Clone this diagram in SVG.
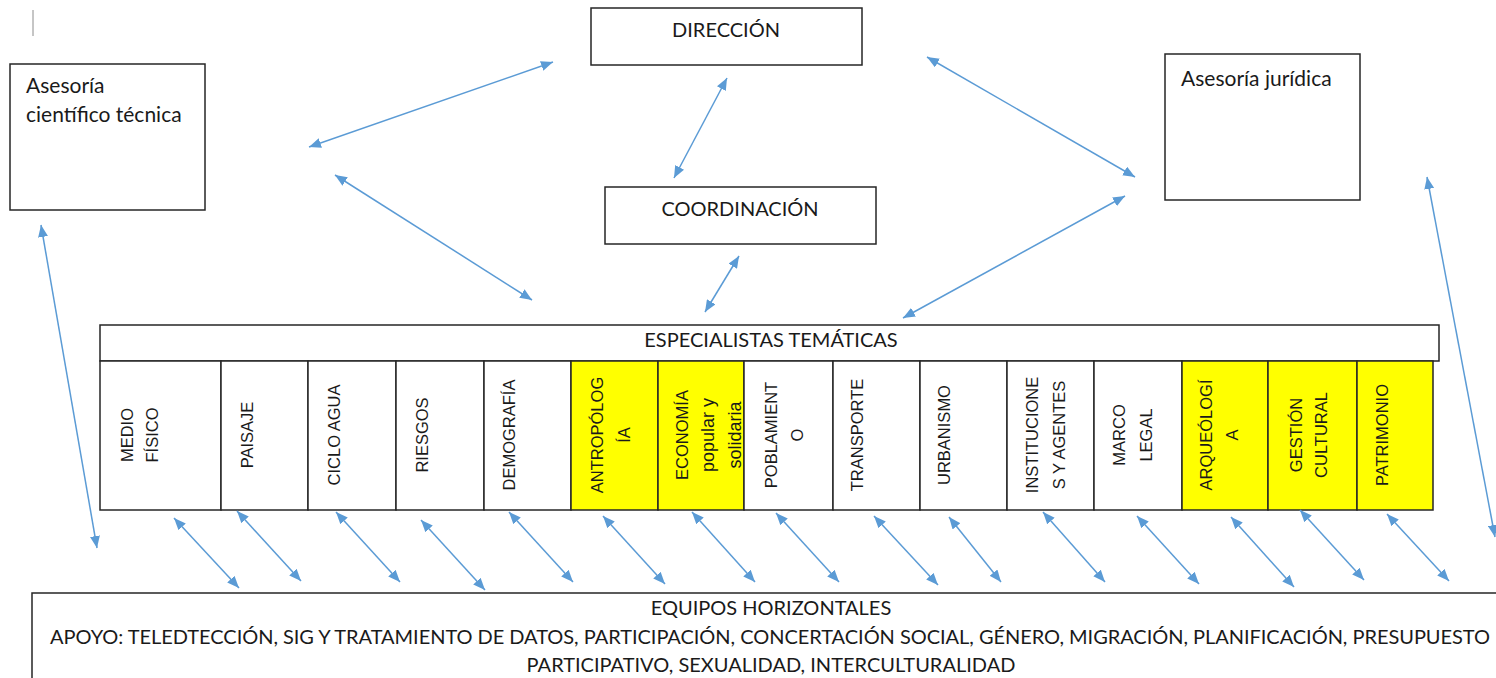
<svg xmlns="http://www.w3.org/2000/svg" width="1496" height="678" viewBox="0 0 1496 678">
<defs>
<marker id="ah" viewBox="0 0 12 10" refX="12" refY="5" markerWidth="12" markerHeight="10" markerUnits="userSpaceOnUse" orient="auto-start-reverse">
<path d="M0,0 L12,5 L0,10 z" fill="#5B9BD5"/>
</marker>
<style>
.box{fill:#fff;stroke:#262626;stroke-width:1.5}
.col{fill:#fff;stroke:#262626;stroke-width:1.5}
.yel{fill:#ffff00;stroke:#262626;stroke-width:1.5}
.t{font-family:Lato,"Liberation Sans",sans-serif;font-size:21px;fill:#1a1a1a}
.c{font-family:Lato,"Liberation Sans",sans-serif;font-size:20px;fill:#1a1a1a;text-anchor:middle}
.v{font-family:"Liberation Sans",Arial,sans-serif;font-size:16.5px;fill:#1a1a1a;text-anchor:middle}
.s{font-size:18px}
.a{stroke:#5B9BD5;stroke-width:1.5;fill:none;marker-start:url(#ah);marker-end:url(#ah)}
</style>
</defs>
<rect width="1496" height="678" fill="#fff"/>
<line x1="33" y1="10" x2="33" y2="36" stroke="#8c8c8c" stroke-width="1"/>

<g id="asesoria-cientifica">
<rect class="box" x="10" y="64" width="195" height="146"/>
<text class="t" x="26" y="93">Asesoría</text>
<text class="t" x="26" y="122">científico técnica</text>
</g>
<g id="direccion">
<rect class="box" x="591" y="8" width="271" height="57"/>
<text class="c" x="726" y="37">DIRECCIÓN</text>
</g>
<g id="coordinacion">
<rect class="box" x="605" y="187" width="271" height="57"/>
<text class="c" x="740" y="216">COORDINACIÓN</text>
</g>
<g id="asesoria-juridica">
<rect class="box" x="1165" y="54" width="195" height="146"/>
<text class="t" x="1181" y="86">Asesoría jurídica</text>
</g>
<g id="especialistas">
<rect class="box" x="100" y="325" width="1339" height="36"/>
<text class="c" x="771" y="347">ESPECIALISTAS TEMÁTICAS</text>
</g>

<g id="col-medio-fisico"><rect class="col" x="100" y="361" width="121" height="149"/>
<text class="v" transform="translate(133,435) rotate(-90)"><tspan x="0" y="0">MEDIO</tspan><tspan x="0" y="25">FÍSICO</tspan></text></g>
<g id="col-paisaje"><rect class="col" x="221" y="361" width="87" height="149"/>
<text class="v" transform="translate(253,435) rotate(-90)">PAISAJE</text></g>
<g id="col-ciclo-agua"><rect class="col" x="308" y="361" width="88" height="149"/>
<text class="v" transform="translate(340,435) rotate(-90)">CICLO AGUA</text></g>
<g id="col-riesgos"><rect class="col" x="396" y="361" width="88" height="149"/>
<text class="v" transform="translate(428,435) rotate(-90)">RIESGOS</text></g>
<g id="col-demografia"><rect class="col" x="484" y="361" width="87" height="149"/>
<text class="v" transform="translate(515,435) rotate(-90)">DEMOGRAFÍA</text></g>
<g id="col-antropologia"><rect class="yel" x="571" y="361" width="87" height="149"/>
<text class="v" transform="translate(603,435) rotate(-90)"><tspan x="0" y="0">ANTROPÓLOG</tspan><tspan x="0" y="27">ÍA</tspan></text></g>
<g id="col-economia"><rect class="yel" x="658" y="361" width="86" height="149"/>
<text class="v" transform="translate(688,435) rotate(-90)"><tspan x="0" y="0">ECONOMÍA</tspan><tspan class="s" x="0" y="26">popular y</tspan><tspan class="s" x="0" y="53">solidaria</tspan></text></g>
<g id="col-poblamiento"><rect class="col" x="744" y="361" width="89" height="149"/>
<text class="v" transform="translate(777,435) rotate(-90)"><tspan x="0" y="0">POBLAMIENT</tspan><tspan x="0" y="26">O</tspan></text></g>
<g id="col-transporte"><rect class="col" x="833" y="361" width="87" height="149"/>
<text class="v" transform="translate(863,435) rotate(-90)">TRANSPORTE</text></g>
<g id="col-urbanismo"><rect class="col" x="920" y="361" width="87" height="149"/>
<text class="v" transform="translate(950,435) rotate(-90)">URBANISMO</text></g>
<g id="col-instituciones"><rect class="col" x="1007" y="361" width="87" height="149"/>
<text class="v" transform="translate(1038,435) rotate(-90)"><tspan x="0" y="0">INSTITUCIONE</tspan><tspan x="0" y="27">S Y AGENTES</tspan></text></g>
<g id="col-marco-legal"><rect class="col" x="1094" y="361" width="88" height="149"/>
<text class="v" transform="translate(1125,435) rotate(-90)"><tspan x="0" y="0">MARCO</tspan><tspan x="0" y="27">LEGAL</tspan></text></g>
<g id="col-arqueologia"><rect class="yel" x="1182" y="361" width="86" height="149"/>
<text class="v" transform="translate(1212,435) rotate(-90)"><tspan x="0" y="0">ARQUEÓLOGÍ</tspan><tspan x="0" y="26">A</tspan></text></g>
<g id="col-gestion-cultural"><rect class="yel" x="1268" y="361" width="89" height="149"/>
<text class="v" transform="translate(1302,435) rotate(-90)"><tspan x="0" y="0">GESTIÓN</tspan><tspan x="0" y="25">CULTURAL</tspan></text></g>
<g id="col-patrimonio"><rect class="yel" x="1357" y="361" width="76" height="149"/>
<text class="v" transform="translate(1388,435) rotate(-90)">PATRIMONIO</text></g>

<g id="equipos-horizontales">
<rect class="box" x="32" y="593" width="1480" height="100"/>
<text class="c" x="771" y="615">EQUIPOS HORIZONTALES</text>
<text class="c" x="770" y="644" textLength="1440" lengthAdjust="spacing">APOYO: TELEDTECCIÓN, SIG Y TRATAMIENTO DE DATOS, PARTICIPACIÓN, CONCERTACIÓN SOCIAL, GÉNERO, MIGRACIÓN, PLANIFICACIÓN, PRESUPUESTO</text>
<text class="c" x="771" y="672">PARTICIPATIVO, SEXUALIDAD, INTERCULTURALIDAD</text>
</g>

<g id="connectors">
<line class="a" x1="309" y1="147" x2="553" y2="62"/>
<line class="a" x1="335" y1="175" x2="532" y2="300"/>
<line class="a" x1="727" y1="78" x2="674" y2="178"/>
<line class="a" x1="739" y1="256" x2="705" y2="312"/>
<line class="a" x1="927" y1="57" x2="1135" y2="177"/>
<line class="a" x1="1125" y1="196" x2="903" y2="318"/>
<line class="a" x1="41" y1="225" x2="97" y2="548"/>
<line class="a" x1="1427" y1="177" x2="1495" y2="537"/>
<line class="a" x1="174" y1="518" x2="239" y2="588"/>
<line class="a" x1="237" y1="511" x2="301" y2="581"/>
<line class="a" x1="336" y1="512" x2="400" y2="582"/>
<line class="a" x1="421" y1="520" x2="485" y2="590"/>
<line class="a" x1="509" y1="512" x2="573" y2="582"/>
<line class="a" x1="603" y1="516" x2="665" y2="584"/>
<line class="a" x1="692" y1="512" x2="755" y2="582"/>
<line class="a" x1="776" y1="513" x2="839" y2="582"/>
<line class="a" x1="874" y1="516" x2="938" y2="585"/>
<line class="a" x1="949" y1="517" x2="1001" y2="582"/>
<line class="a" x1="1043" y1="512" x2="1105" y2="582"/>
<line class="a" x1="1137" y1="516" x2="1199" y2="584"/>
<line class="a" x1="1231" y1="517" x2="1294" y2="587"/>
<line class="a" x1="1300" y1="510" x2="1364" y2="580"/>
<line class="a" x1="1387" y1="514" x2="1449" y2="581"/>
</g>
</svg>
